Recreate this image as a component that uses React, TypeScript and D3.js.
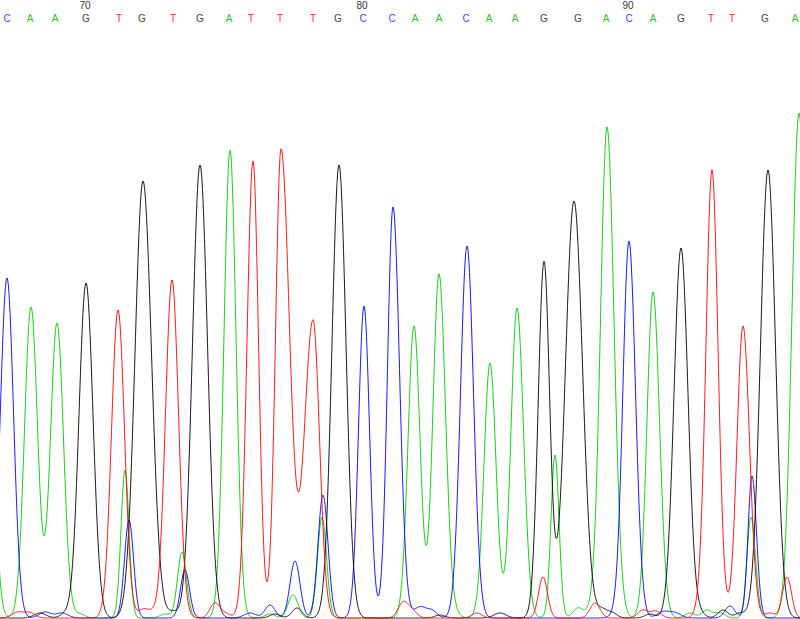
import React from "react";
import * as d3 from "d3";

// ---- Data ----
// Base calls shown across the top, with the scan at which each is called
const baseCalls = ["C","A","A","G","T","G","T","G","A","T","T","T","G","C","C","A","A","C","A","A","G","G","A","C","A","G","T","T","G","A"];
const baseScans = [7,30,55,86,119,142,173,200,229,251,280,313,338,363,392,415,439,466,489,515,544,578,606,629,653,681,711,732,765,795];
const firstBaseNumber = 67;
const numberedBases = [70, 80, 90];

// Peaks per dye channel: [scan, intensity, sigmaLeft, sigmaRight]
const peaksC: number[][] = [
  [7, 680, 6.7, 6.5], [45, 12, 6, 6], [62, 10, 6, 6], [129, 196, 4.5, 4.5], [185, 96, 4.5, 4.5],
  [250, 10, 6, 6], [270, 26, 5, 5], [295, 114, 5, 5], [323, 246, 5, 5], [364, 624, 5.5, 5.5],
  [393, 822, 5.5, 6.5], [420, 22, 6, 6], [432, 14, 5, 5], [467, 744, 6.5, 6.5], [620, 12, 6, 6],
  [629, 750, 6, 6.5], [663, 12, 6, 6], [675, 10, 6, 6], [730, 24, 5, 5], [752, 284, 4, 4.5],
];
const peaksA: number[][] = [
  [-12, 600, 6, 6], [31, 622, 6.5, 6.5], [57, 590, 6.5, 6.5], [80, 8, 5, 5], [125, 296, 4, 4],
  [165, 8, 5, 5], [182, 132, 4.5, 4.5], [230, 936, 6, 6], [270, 8, 5, 5], [293, 46, 5, 5],
  [322, 202, 4.5, 4.5], [414, 584, 6, 6], [439, 688, 6, 6.5], [455, 6, 5, 5], [490, 510, 6, 6],
  [517, 620, 6, 6.5], [555, 326, 4, 4], [578, 20, 5, 5], [590, 10, 5, 5], [607, 982, 6.5, 7],
  [653, 652, 6, 6.5], [690, 10, 5, 5], [707, 16, 5, 5], [720, 10, 5, 5], [751, 202, 4, 4.5],
  [799, 1010, 7, 7],
];
const peaksG: number[][] = [
  [40, 10, 6, 6], [65, 8, 5, 5], [86, 670, 7, 7], [143, 874, 8, 8.5], [173, 12, 5, 5],
  [200, 906, 7.5, 7.5], [275, 8, 5, 5], [297, 20, 5, 5], [339, 906, 7, 7], [440, 6, 5, 5],
  [500, 10, 6, 6], [544, 712, 5.8, 5.6], [574, 834, 8.5, 8.5], [602, 16, 5, 5], [612, 10, 5, 5],
  [650, 8, 5, 5], [681, 740, 7, 7], [700, 8, 5, 5], [723, 16, 5, 5], [740, 10, 5, 5],
  [768, 896, 7.5, 7.5],
];
const peaksT: number[][] = [
  [18, 12, 6, 6], [30, 10, 5, 5], [118, 616, 6.5, 6.5], [143, 16, 5, 5], [152, 10, 5, 5],
  [172, 676, 6.5, 6.5], [215, 30, 5, 5], [226, 8, 5, 5], [253, 914, 6, 5.5], [281, 938, 5.5, 8.5],
  [313, 596, 8.5, 6.5], [403, 30, 5, 5], [412, 14, 5, 5], [477, 10, 5, 5], [543, 82, 4.5, 4.5],
  [595, 30, 5, 5], [643, 16, 5, 5], [656, 14, 5, 5], [700, 12, 5, 5], [712, 896, 6, 6],
  [743, 584, 6, 6.5], [770, 10, 5, 5], [787, 82, 4.5, 4.5],
];

const channels = [
  { base: "A", peaks: peaksA, color: "#00c800" },
  { base: "C", peaks: peaksC, color: "#0000ff" },
  { base: "G", peaks: peaksG, color: "#000000" },
  { base: "T", peaks: peaksT, color: "#ff0000" },
];
const letterColors: Record<string, string> = { A: "#33bb33", C: "#4444ff", G: "#444444", T: "#ff2a2a" };

const W = 800;
const H = 619;

export default function App() {
  const x = d3.scaleLinear().domain([0, 800]).range([0, W]);
  const y = d3.scaleLinear().domain([0, 1236]).range([618, 0]);

  const signal = (peaks: number[][], s: number) => {
    let v = 0;
    for (const [p, h, sl, sr] of peaks) {
      const sg = s < p ? sl : sr;
      const d = s - p;
      v += h * Math.exp(-(d * d) / (2 * sg * sg));
    }
    return v;
  };
  const scans = d3.range(-20, 821, 0.5);
  const line = d3
    .line<number[]>()
    .x((d) => x(d[0]))
    .y((d) => y(d[1]));

  return (
    <svg
      width={W}
      height={H}
      style={{ position: "fixed", left: 0, top: 0, background: "#fff" }}
      fontFamily="'Liberation Sans', Arial, sans-serif"
    >
      <rect width={W} height={H} fill="#fff" />
      <g>
        {channels.map((c) => (
          <path
            key={c.base}
            d={line(scans.map((s) => [s, signal(c.peaks, s)])) || ""}
            fill="none"
            stroke={c.color}
            strokeWidth={1}
            opacity={0.9}
          />
        ))}
      </g>
      <g fontSize={10} textAnchor="middle">
        {baseCalls.map((b, i) => (
          <text key={i} x={x(baseScans[i])} y={22} fill={letterColors[b]}>
            {b}
          </text>
        ))}
        {numberedBases.map((n) => (
          <text key={n} x={x(baseScans[n - firstBaseNumber]) - 1} y={9} fill="#333">
            {n}
          </text>
        ))}
      </g>
    </svg>
  );
}
